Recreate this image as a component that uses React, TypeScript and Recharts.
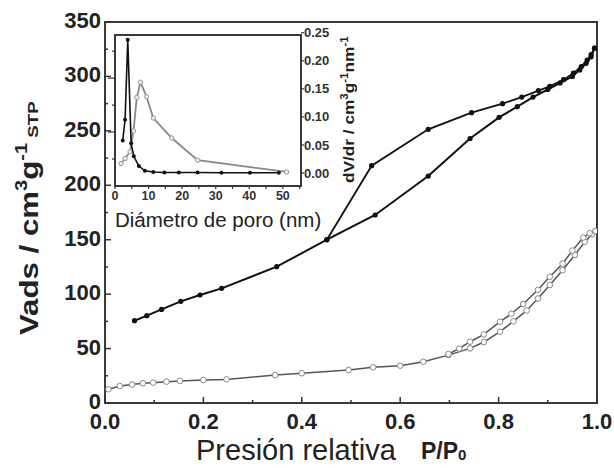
import React from "react";
import { ScatterChart, Scatter, XAxis, YAxis, ReferenceArea } from "recharts";

const FONT = '"Liberation Sans", Arial, sans-serif';
const INK = "#333";

// main isotherm, filled markers
const blackAdsP = [0.06, 0.085, 0.115, 0.154, 0.193, 0.237, 0.349, 0.451, 0.549, 0.657, 0.742, 0.801, 0.838, 0.87, 0.9, 0.925, 0.95, 0.965, 0.978, 0.988, 0.995];
const blackAdsV = [75.6, 80.2, 86, 93.4, 99.2, 105.3, 125.2, 150, 172.7, 208.5, 243, 262.4, 272.2, 281, 288, 294, 300, 306, 312, 318, 326];
const blackDesP = [0.995, 0.988, 0.98, 0.968, 0.952, 0.932, 0.904, 0.881, 0.847, 0.808, 0.745, 0.657, 0.542, 0.451];
const blackDesV = [326, 320, 315, 309, 303, 297, 291, 287, 281, 275, 266.7, 251.4, 218, 150];

// main isotherm, open markers
const grayAdsP = [0.007, 0.03, 0.055, 0.077, 0.098, 0.125, 0.152, 0.2, 0.247, 0.346, 0.4, 0.495, 0.545, 0.6, 0.647, 0.698, 0.742, 0.77, 0.803, 0.83, 0.857, 0.88, 0.904, 0.93, 0.955, 0.975, 0.99, 0.997];
const grayAdsV = [12.6, 15.6, 17, 18.1, 18.7, 19.6, 20.3, 21.1, 21.7, 25.7, 27.3, 30.3, 32.8, 34.3, 37.9, 44, 50.2, 56, 65.5, 75, 85, 96, 108.4, 122, 136, 148, 155, 158];
const grayDesP = [0.997, 0.985, 0.972, 0.95, 0.93, 0.904, 0.88, 0.85, 0.826, 0.803, 0.77, 0.742, 0.72, 0.698];
const grayDesV = [158, 156, 152, 140, 128, 116, 104, 91, 82, 74.7, 63, 56.3, 50, 45];

// inset: pore size distribution
const insetBlackD = [2.3, 3.0, 3.8, 4.8, 5.6, 7.1, 8.9, 11.4, 14.7, 19, 24.6, 31.7, 40.2, 48.8];
const insetBlackV = [0.058, 0.095, 0.2375, 0.053, 0.03, 0.0125, 0.004, 0.002, 0.001, 0.001, 0.001, 0.0005, 0.0005, 0.0005];
const insetGrayD = [1.8, 3.0, 4.5, 5.5, 6.5, 7.6, 9.4, 11.4, 16.9, 24.6, 51.1];
const insetGrayV = [0.017, 0.026, 0.038, 0.075, 0.135, 0.162, 0.136, 0.098, 0.0625, 0.023, 0.002];

const xTicks = [0, 0.1, 0.2, 0.3, 0.4, 0.5, 0.6, 0.7, 0.8, 0.9, 1.0];
const yTicks = [0, 25, 50, 75, 100, 125, 150, 175, 200, 225, 250, 275, 300, 325, 350];
const insetXTicks = [0, 5, 10, 15, 20, 25, 30, 35, 40, 45, 50, 55];
const insetRTicks = [0, 0.05, 0.1, 0.15, 0.2, 0.25];
const insetLTicks = [1, 2, 3, 4, 5];

const zip = (xs: number[], ys: number[]) => xs.map((x, i) => ({ x, y: ys[i] }));

const blackDot = (p: any) => <circle cx={p.cx} cy={p.cy} r={2.6} fill="#111" />;
const grayDot = (p: any) => <circle cx={p.cx} cy={p.cy} r={2.8} fill="#fff" stroke="#888" strokeWidth={1} />;
const smallBlackDot = (p: any) => <circle cx={p.cx} cy={p.cy} r={2} fill="#111" />;
const smallGrayDot = (p: any) => <circle cx={p.cx} cy={p.cy} r={2.2} fill="#eee" stroke="#999" strokeWidth={1} />;

const mainXTick = (p: any) => {
  const v = p.payload.value;
  const major = Math.round(v * 10) % 2 === 0;
  return (
    <g>
      <line x1={p.x} y1={p.y} x2={p.x} y2={p.y - (major ? 6 : 3)} stroke={INK} strokeWidth={1.5} />
      {major && (
        <text x={p.x} y={p.y + 26} textAnchor="middle" fontSize={22} fontWeight={700} fontFamily={FONT} fill="#222">
          {v.toFixed(1)}
        </text>
      )}
    </g>
  );
};

const mainYTick = (p: any) => {
  const v = p.payload.value;
  const major = v % 50 === 0;
  return (
    <g>
      <line x1={p.x} y1={p.y} x2={p.x + (major ? 6 : 3)} y2={p.y} stroke={INK} strokeWidth={1.5} />
      {major && (
        <text x={p.x - 4} y={p.y + 6} textAnchor="end" fontSize={22} fontWeight={700} fontFamily={FONT} fill="#222">
          {v}
        </text>
      )}
    </g>
  );
};

const insetXTick = (p: any) => {
  const v = p.payload.value;
  const major = v % 10 === 0;
  return (
    <g>
      <line x1={p.x} y1={p.y} x2={p.x} y2={p.y + 3} stroke={INK} strokeWidth={1.2} />
      {major && (
        <text x={p.x} y={p.y + 14} textAnchor="middle" fontSize={12.5} fontWeight={700} fontFamily={FONT} fill="#333">
          {v}
        </text>
      )}
    </g>
  );
};

const insetRTick = (p: any) => {
  const v = p.payload.value;
  return (
    <g>
      <line x1={p.x} y1={p.y} x2={p.x + 3} y2={p.y} stroke={INK} strokeWidth={1.2} />
      <text x={p.x + 3} y={p.y + 4.5} textAnchor="start" fontSize={13} fontWeight={700} fontFamily={FONT} fill="#333">
        {v.toFixed(2)}
      </text>
    </g>
  );
};

const insetLTick = (p: any) => {
  const v = p.payload.value;
  const major = v % 2 === 0;
  return <line x1={p.x} y1={p.y} x2={p.x - (major ? 7 : 3)} y2={p.y} stroke={INK} strokeWidth={1.2} />;
};

function MainChart() {
  return (
    <ScatterChart width={614} height={468} margin={{ top: 22, right: 17, bottom: 0, left: 0 }}>
      <XAxis
        type="number"
        dataKey="x"
        domain={[0, 1]}
        ticks={xTicks}
        height={65}
        tickSize={0}
        tickMargin={0}
        tickLine={false}
        axisLine={false}
        tick={mainXTick}
        interval={0}
        allowDataOverflow
      />
      <YAxis
        type="number"
        dataKey="y"
        domain={[0, 350]}
        ticks={yTicks}
        width={105}
        tickSize={0}
        tickMargin={0}
        tickLine={false}
        axisLine={false}
        tick={mainYTick}
        interval={0}
        allowDataOverflow
      />
      <ReferenceArea x1={0} x2={1} y1={0} y2={350} fill="none" stroke="#3a3a3a" strokeWidth={2} ifOverflow="visible" />
      <Scatter data={zip(grayAdsP, grayAdsV)} line={{ stroke: "#555", strokeWidth: 1.5 }} shape={grayDot} isAnimationActive={false} />
      <Scatter data={zip(grayDesP, grayDesV)} line={{ stroke: "#555", strokeWidth: 1.5 }} shape={grayDot} isAnimationActive={false} />
      <Scatter data={zip(blackAdsP, blackAdsV)} line={{ stroke: "#111", strokeWidth: 2 }} shape={blackDot} isAnimationActive={false} />
      <Scatter data={zip(blackDesP, blackDesV)} line={{ stroke: "#111", strokeWidth: 1.8 }} shape={blackDot} isAnimationActive={false} />
    </ScatterChart>
  );
}

function InsetChart() {
  return (
    <ScatterChart width={360} height={230} margin={{ top: 35, right: 0, bottom: 0, left: 0 }}>
      <XAxis
        type="number"
        dataKey="x"
        domain={[0, 55.4]}
        ticks={insetXTicks.filter((t) => t <= 55)}
        height={44}
        tickSize={0}
        tickMargin={0}
        tickLine={false}
        axisLine={false}
        tick={insetXTick}
        interval={0}
        allowDataOverflow
      />
      <YAxis
        yAxisId="l"
        type="number"
        domain={[0, 5.6]}
        ticks={insetLTicks}
        width={115}
        tickSize={0}
        tickMargin={0}
        tickLine={false}
        axisLine={false}
        tick={insetLTick}
        interval={0}
        allowDataOverflow
      />
      <YAxis
        yAxisId="r"
        orientation="right"
        type="number"
        dataKey="y"
        domain={[-0.023, 0.246]}
        ticks={insetRTicks}
        width={59}
        tickSize={0}
        tickMargin={0}
        tickLine={false}
        axisLine={false}
        tick={insetRTick}
        interval={0}
        allowDataOverflow
      />
      <ReferenceArea yAxisId="r" x1={0} x2={55.4} y1={-0.023} y2={0.246} fill="none" stroke="#3a3a3a" strokeWidth={2} ifOverflow="visible" />
      <Scatter yAxisId="r" data={zip(insetGrayD, insetGrayV)} line={{ stroke: "#888", strokeWidth: 1.8 }} shape={smallGrayDot} isAnimationActive={false} />
      <Scatter yAxisId="r" data={zip(insetBlackD, insetBlackV)} line={{ stroke: "#111", strokeWidth: 1.6 }} shape={smallBlackDot} isAnimationActive={false} />
    </ScatterChart>
  );
}

export default function App() {
  return (
    <div style={{ position: "absolute", left: 0, top: 0, width: 614, height: 468, background: "#fff", fontFamily: FONT }}>
      <div style={{ position: "absolute", left: 0, top: 0 }}>
        <MainChart />
      </div>
      <div style={{ position: "absolute", left: 0, top: 0 }}>
        <InsetChart />
      </div>
      <svg width={614} height={468} style={{ position: "absolute", left: 0, top: 0, pointerEvents: "none" }}>
        <text transform="translate(38,335) rotate(-90) scale(1.25,1)" fontFamily={FONT} fontWeight={700} fontSize={25} fill="#222">
          Vads / cm
          <tspan fontSize={16} dy={-11}>3</tspan>
          <tspan dy={11}>g</tspan>
          <tspan fontSize={16} dy={-11}>-1</tspan>
          <tspan fontSize={15} dy={11}> STP</tspan>
        </text>
        <text x={196} y={460} fontFamily={FONT} fontSize={29} fill="#222">
          Presión relativa
        </text>
        <text x={421} y={459} fontFamily={FONT} fontWeight={700} fontSize={23} fill="#222">
          P/P<tspan fontSize={15} dy={1}>0</tspan>
        </text>
        <text x={115} y={227} fontFamily={FONT} fontSize={20.5} fill="#222">
          Diámetro de poro (nm)
        </text>
        <text transform="translate(354,183) rotate(-90) scale(1.15,1)" fontFamily={FONT} fontWeight={700} fontSize={15} fill="#222">
          dV/dr / cm
          <tspan fontSize={10} dy={-6}>3</tspan>
          <tspan dy={6}>g</tspan>
          <tspan fontSize={10} dy={-6}>-1</tspan>
          <tspan dy={6}>nm</tspan>
          <tspan fontSize={10} dy={-6}>-1</tspan>
        </text>
      </svg>
    </div>
  );
}
